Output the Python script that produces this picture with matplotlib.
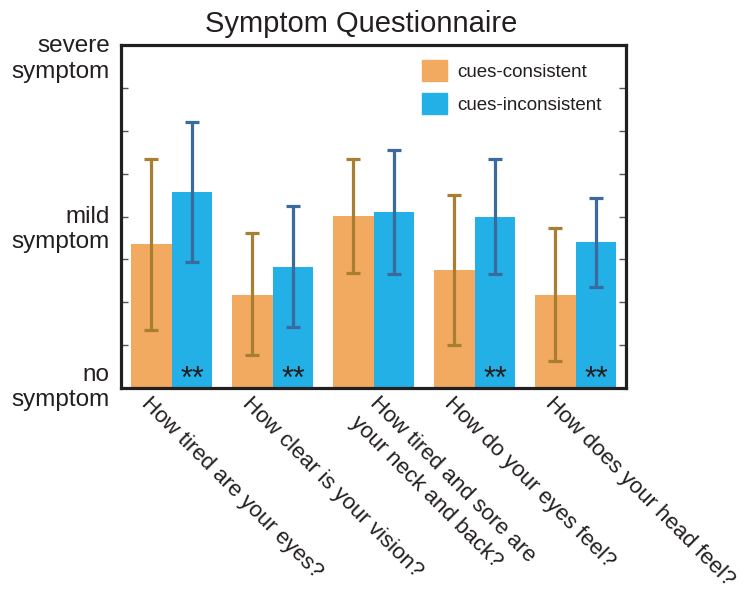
import numpy as np
import matplotlib
matplotlib.use("Agg")
import matplotlib.pyplot as plt
import matplotlib.patches as mpatches
import matplotlib.transforms as mtransforms

plt.rcParams["font.family"] = ["Liberation Sans", "DejaVu Sans"]

# ── data ─────────────────────────────────────────────────────────────────────
questions = [
    "How tired are your eyes?",
    "How clear is your vision?",
    "How tired and sore are\nyour neck and back?",
    "How do your eyes feel?",
    "How does your head feel?",
]
consistent_mean = [1.68, 1.08, 2.01, 1.38, 1.08]
consistent_lo   = [0.68, 0.38, 1.34, 0.50, 0.32]
consistent_hi   = [2.67, 1.81, 2.67, 2.25, 1.87]
inconsistent_mean = [2.29, 1.41, 2.05, 2.00, 1.70]
inconsistent_lo   = [1.47, 0.71, 1.33, 1.33, 1.18]
inconsistent_hi   = [3.10, 2.12, 2.78, 2.67, 2.22]
significant = [True, True, False, True, True]
ytick_vals = [0, 0.5, 1, 1.5, 2, 2.5, 3, 3.5, 4]
ytick_text = ["no\nsymptom", "", "", "", "mild\nsymptom", "", "", "", "severe\nsymptom"]

# ── palette ──────────────────────────────────────────────────────────────────
ORANGE = "#F2AA60"
BLUE = "#22B0E6"
ORANGE_ERR = "#A87F32"
BLUE_ERR = "#3A6A9E"
INK = "#231F20"

fig = plt.figure(figsize=(7.56, 5.92), dpi=100)
ax = fig.add_axes([121 / 756, 1 - 388 / 592, 505 / 756, 343 / 592])

x = np.arange(len(questions))
w = 0.405
cm = np.array(consistent_mean)
im = np.array(inconsistent_mean)
c_err = [cm - np.array(consistent_lo), np.array(consistent_hi) - cm]
i_err = [im - np.array(inconsistent_lo), np.array(inconsistent_hi) - im]

ax.bar(x - w / 2, cm, w, color=ORANGE, zorder=1)
ax.bar(x + w / 2, im, w, color=BLUE, zorder=1)
ax.errorbar(x - w / 2, cm, yerr=c_err, fmt="none", ecolor=ORANGE_ERR,
            elinewidth=2.3, capsize=5, capthick=2.3, zorder=2)
ax.errorbar(x + w / 2, im, yerr=i_err, fmt="none", ecolor=BLUE_ERR,
            elinewidth=2.3, capsize=5, capthick=2.3, zorder=2)

# significance stars sit at the foot of the blue bars
for xi, sig in zip(x, significant):
    if sig:
        ax.text(xi + w / 2, -0.08, "**", ha="center", va="bottom",
                fontsize=22, color=INK, zorder=3, clip_on=False)

ax.set_xlim(-0.5, len(questions) - 0.5)
ax.set_ylim(0, 4)

ax.set_yticks(ytick_vals)
ax.set_yticklabels(ytick_text, fontsize=17.5, color=INK, linespacing=1.2)
ax.tick_params(axis="y", direction="in", length=5, width=1, color="#555555",
               right=True, pad=8)
# small vertical nudges for the y labels (px)
for lab, dy in zip(ax.get_yticklabels(), [4.5, 0, 0, 0, -9, 0, 0, 0, -10]):
    lab.set_transform(lab.get_transform() +
                      mtransforms.ScaledTranslation(0, dy / 100, fig.dpi_scale_trans))

ax.set_xticks(x)
ax.set_xticklabels(questions, rotation=-45, ha="left", va="top",
                   rotation_mode="anchor", fontsize=16, color=INK,
                   linespacing=1.4)
ax.tick_params(axis="x", length=0, pad=0)
for i, lab in enumerate(ax.get_xticklabels()):
    dx = -20 + (27 if i == 2 else 0)
    lab.set_transform(lab.get_transform() +
                      mtransforms.ScaledTranslation(dx / 100, -5 / 100, fig.dpi_scale_trans))

for s in ax.spines.values():
    s.set_linewidth(2.3)
    s.set_color(INK)

ax.set_title("Symptom Questionnaire", fontsize=21, color=INK, pad=9,
             x=(361.5 - 121) / 505)

handles = [mpatches.Patch(color=ORANGE, label="cues-consistent"),
           mpatches.Patch(color=BLUE, label="cues-inconsistent")]
leg = ax.legend(handles=handles, loc="upper left", bbox_to_anchor=(0.596, 0.955),
                frameon=False, fontsize=13.5, handlelength=1.33, handleheight=1.33,
                handletextpad=0.55, labelspacing=0.65, borderpad=0, borderaxespad=0)
for t in leg.get_texts():
    t.set_color(INK)

fig.savefig("out.png", dpi=100, facecolor="white")
plt.close(fig)
